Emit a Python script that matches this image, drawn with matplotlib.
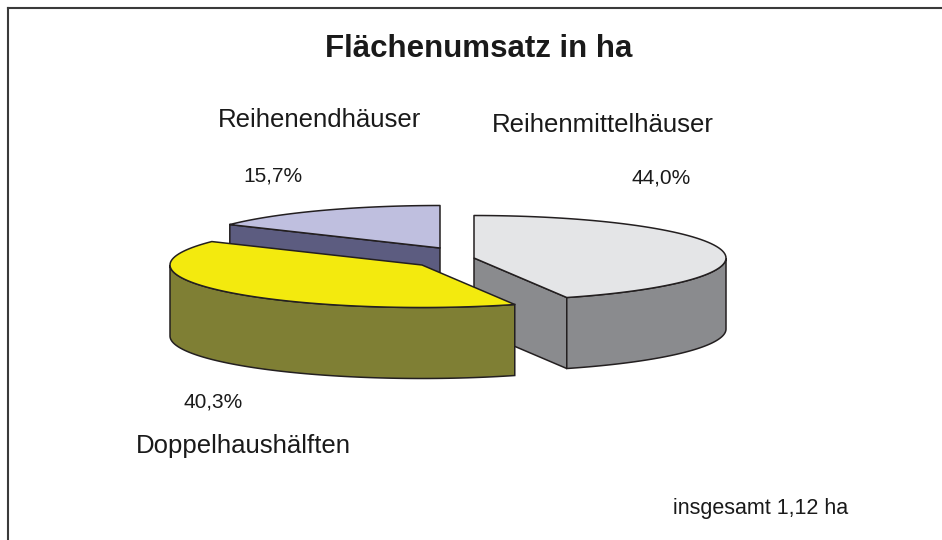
# Flächenumsatz in ha - 3D Kreisdiagramm (explodiert)
import numpy as np
import matplotlib
matplotlib.use('Agg')
import matplotlib.pyplot as plt
from matplotlib.patches import Polygon

# Daten
labels = ['Reihenmittelhäuser', 'Doppelhaushälften', 'Reihenendhäuser']
anteile = [44.0, 40.3, 15.7]
pct_texte = ['44,0%', '40,3%', '15,7%']
titel = 'Flächenumsatz in ha'
fussnote = 'insgesamt 1,12 ha'

# Farben (Deckel, Seite)
farben_top = ['#e4e5e7', '#f3ea0e', '#bfbfdf']
farben_seite = ['#8a8b8e', '#7f7f34', '#5c5c80']

# Geometrie in Pixeln
cx, cy = 445, 258
rx, ry = 252, 42.5
tiefe = 71
verschiebung = [(29, 0), (-23, 7), (-5, -10)]

plt.rcParams['font.family'] = ['Liberation Sans', 'DejaVu Sans']

fig = plt.figure(figsize=(9.42, 5.4), dpi=100)
ax = fig.add_axes([0, 0, 1, 1])
ax.set_xlim(0, 942)
ax.set_ylim(540, 0)
ax.axis('off')

rand = '#231f20'
lw = 1.1


def punkt(x0, y0, t, dz=0):
    return (x0 + rx * np.cos(np.radians(t)), y0 - ry * np.sin(np.radians(t)) + dz)


def bogen(x0, y0, ta, tb, dz=0, n=80):
    ts = np.linspace(ta, tb, n)
    return [punkt(x0, y0, t, dz) for t in ts]


# Winkel (im Uhrzeigersinn ab 12 Uhr)
stuecke = []
start = 90.0
for i, v in enumerate(anteile):
    t1 = start
    t0 = start - 360 * v / 100
    stuecke.append((i, t0, t1))
    start = t0

# hinten zuerst zeichnen
stuecke.sort(key=lambda s: -np.sin(np.radians((s[1] + s[2]) / 2)))

for i, t0, t1 in stuecke:
    x0 = cx + verschiebung[i][0]
    y0 = cy + verschiebung[i][1]

    # Seitenflächen (Schnitt)
    if np.cos(np.radians(t0)) > 1e-6:
        p = punkt(x0, y0, t0)
        ax.add_patch(Polygon([(x0, y0), p, (p[0], p[1] + tiefe), (x0, y0 + tiefe)],
                             closed=True, fc=farben_seite[i], ec=rand, lw=lw))
    if np.cos(np.radians(t1)) < -1e-6:
        p = punkt(x0, y0, t1)
        ax.add_patch(Polygon([(x0, y0), p, (p[0], p[1] + tiefe), (x0, y0 + tiefe)],
                             closed=True, fc=farben_seite[i], ec=rand, lw=lw))

    # Außenwand (vorderer Teil)
    for k in range(-2, 2):
        lo = max(t0, -180 + 360 * k)
        hi = min(t1, 0 + 360 * k)
        if hi > lo:
            oben = bogen(x0, y0, lo, hi)
            unten = bogen(x0, y0, hi, lo, dz=tiefe)
            ax.add_patch(Polygon(oben + unten, closed=True,
                                 fc=farben_seite[i], ec=rand, lw=lw))

    # Deckel
    deckel = [(x0, y0)] + bogen(x0, y0, t0, t1)
    ax.add_patch(Polygon(deckel, closed=True, fc=farben_top[i], ec=rand, lw=lw,
                         joinstyle='round'))

# Rahmen
ax.plot([8, 8], [540, 8], color='#3a3a3a', lw=1.5, solid_capstyle='projecting')
ax.plot([8, 942], [8, 8], color='#3a3a3a', lw=1.5, solid_capstyle='projecting')

# Texte
ax.text(479, 57, titel, ha='center', va='baseline', fontsize=22.5,
        fontweight='bold', color='#1a1a1a')

label_pos = [(603, 132), (243, 453), (320, 127)]
pct_pos = [(661, 183), (213, 408), (273, 182)]
for i in range(len(labels)):
    ax.text(label_pos[i][0], label_pos[i][1], labels[i], ha='center',
            va='baseline', fontsize=18.5, color='#1a1a1a')
    ax.text(pct_pos[i][0], pct_pos[i][1], pct_texte[i], ha='center',
            va='baseline', fontsize=15, color='#1a1a1a')

ax.text(761, 514, fussnote, ha='center', va='baseline', fontsize=15.5,
        color='#1a1a1a')

fig.savefig('out.png', dpi=100)
